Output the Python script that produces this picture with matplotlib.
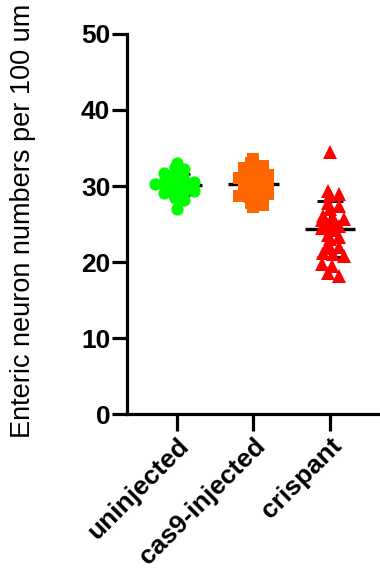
import numpy as np
import matplotlib
matplotlib.use("Agg")
import matplotlib.pyplot as plt

categories = ["uninjected", "cas9-injected", "crispant"]
uninjected = [33.0, 32.5, 32.2, 31.7, 31.5, 31.3, 30.9, 30.7, 30.6, 30.5, 30.3, 30.2,
              30.1, 30.0, 29.9, 29.7, 29.6, 29.5, 29.4, 29.1, 29.0, 28.9, 28.4, 28.2,
              27.0]
cas9_injected = [33.5, 33.0, 32.6, 32.4, 32.2, 31.8, 31.6, 31.4, 31.0, 30.8, 30.6, 30.5,
                 30.3, 30.1, 29.9, 29.6, 29.4, 29.2, 29.0, 28.7, 28.5, 28.3, 27.8, 27.5,
                 27.2]
crispant = [34.5, 29.3, 29.0, 28.8, 27.8, 27.4, 27.0, 26.0, 25.8, 25.6, 25.5, 25.3, 25.0,
            24.8, 24.5, 24.2, 23.5, 23.3, 23.0, 22.3, 22.0, 21.8, 21.2, 21.0, 20.8, 19.8,
            19.5, 18.5, 18.2]
yticks = [0, 10, 20, 30, 40, 50]

series = [uninjected, cas9_injected, crispant]
colors = ["#00FF00", "#FF6600", "#FF0000"]
markers = ["o", "s", "^"]
spacing_px = [9.5, 11.5, 10.5]

plt.rcParams['font.family'] = ['Liberation Sans', 'DejaVu Sans']

fig = plt.figure(figsize=(3.8, 5.85), dpi=100)
ax = fig.add_axes([0.334, 0.292, 0.666, 0.65])
ax.set_xlim(-0.65, 2.65)
ax.set_ylim(0, 50)


def row_spread(vals, center, spacing, thresh=0.45):
    vals = np.asarray(vals, float)
    order = np.argsort(vals)[::-1]
    rows = []
    for i in order:
        if rows and vals[rows[-1][0]] - vals[i] <= thresh:
            rows[-1].append(i)
        else:
            rows.append([i])
    pts = ax.transData.transform(np.column_stack([np.full(len(vals), center), vals]))
    offs = np.zeros(len(vals))
    for k, r in enumerate(rows):
        n = len(r)
        shift = (0.3 if k % 2 else -0.3) * spacing if n > 1 else 0.0
        for j, idx in enumerate(r):
            offs[idx] = (j - (n - 1) / 2) * spacing + shift
    return ax.transData.inverted().transform(
        np.column_stack([pts[:, 0] + offs, pts[:, 1]]))[:, 0]


for i, (vals, c, m) in enumerate(zip(series, colors, markers)):
    xs = row_spread(vals, i, spacing_px[i])
    ms = {"o": 8.8, "s": 8.5, "^": 9.5}[m]
    ax.plot(xs, vals, linestyle="none", marker=m, markersize=ms, color=c,
            markeredgewidth=0, zorder=3)
    mean = np.mean(vals)
    sd = np.std(vals, ddof=1)
    ax.plot([i - 0.33, i + 0.33], [mean, mean], color="black", lw=2.4, zorder=2,
            solid_capstyle="butt")
    ax.plot([i, i], [mean - sd, mean + sd], color="black", lw=2.0, zorder=2)
    for yv in (mean - sd, mean + sd):
        ax.plot([i - 0.17, i + 0.17], [yv, yv], color="black", lw=2.0, zorder=2,
                solid_capstyle="butt")

ax.spines["top"].set_visible(False)
ax.spines["right"].set_visible(False)
for s in ("left", "bottom"):
    ax.spines[s].set_linewidth(2.3)
ax.set_yticks(yticks)
ax.set_yticklabels([str(v) for v in yticks], fontsize=19, fontweight="bold")
ax.set_xticks(range(len(categories)))
ax.set_xticklabels(categories, fontsize=19, fontweight="bold", rotation=45,
                   ha="right", rotation_mode="anchor")
ax.tick_params(axis="y", length=11, width=2.3, pad=1)
ax.tick_params(axis="x", length=12, width=2.3, pad=2)
ax.set_ylabel("Enteric neuron numbers per 100 um", fontsize=19.5)
ax.yaxis.set_label_coords(-0.36, 0.508)

fig.savefig("out.png", dpi=100)
